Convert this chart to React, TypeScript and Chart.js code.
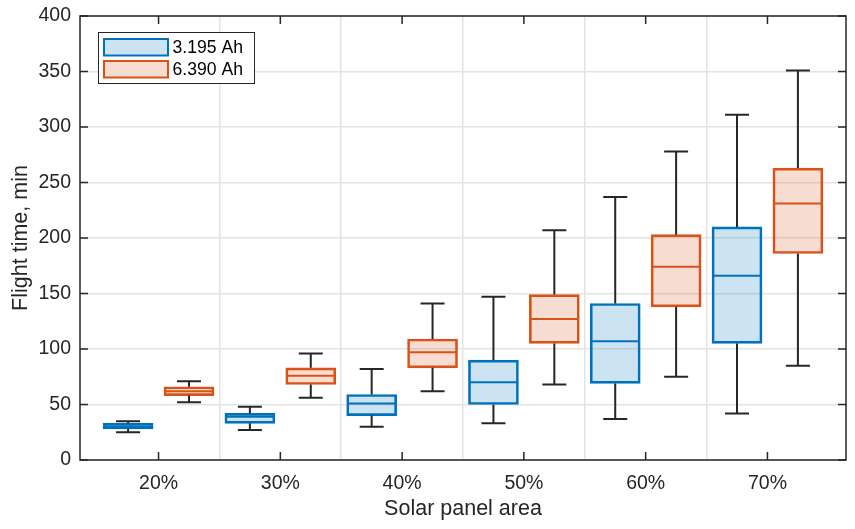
// App.tsx
import React, { useEffect, useRef } from "react";
import { Chart, registerables } from "chart.js";

Chart.register(...registerables);

const categories = ["20%", "30%", "40%", "50%", "60%", "70%"];

// 3.195 Ah battery
const smallLow = [25, 27, 30, 33, 37, 42];
const smallQ1 = [28, 33, 40, 50, 69, 105];
const smallMedian = [30, 39, 51, 70, 107, 166];
const smallQ3 = [33, 42, 59, 90, 141, 210];
const smallHigh = [35, 48, 82, 147, 237, 311];

// 6.390 Ah battery
const largeLow = [52, 56, 62, 68, 75, 85];
const largeQ1 = [58, 68, 83, 105, 138, 186];
const largeMedian = [62, 76, 97, 127, 174, 231];
const largeQ3 = [66, 83, 109, 149, 203, 263];
const largeHigh = [71, 96, 141, 207, 278, 351];

const yTicks = [0, 50, 100, 150, 200, 250, 300, 350, 400];

const FONT = "'Liberation Sans', Arial, Helvetica, sans-serif";
const AXIS_COLOR = "#262626";

const series = [
  {
    label: "3.195 Ah",
    color: "#0072BD",
    fill: "rgba(0, 114, 189, 0.2)",
    shift: -0.25,
    low: smallLow,
    q1: smallQ1,
    median: smallMedian,
    q3: smallQ3,
    high: smallHigh,
  },
  {
    label: "6.390 Ah",
    color: "#D95319",
    fill: "rgba(217, 83, 25, 0.2)",
    shift: 0.25,
    low: largeLow,
    q1: largeQ1,
    median: largeMedian,
    q3: largeQ3,
    high: largeHigh,
  },
];

// whiskers, medians, inward ticks, axes box and the legend
const boxExtras = {
  id: "boxExtras",
  afterDatasetsDraw(chart: any) {
    const ctx = chart.ctx;
    const y = chart.scales.y;
    ctx.save();
    series.forEach((s, di) => {
      const meta = chart.getDatasetMeta(di);
      meta.data.forEach((bar: any, i: number) => {
        const cx = bar.x;
        const half = bar.width / 2;
        const capHalf = 12;
        ctx.strokeStyle = AXIS_COLOR;
        ctx.lineWidth = 2;
        ctx.beginPath();
        ctx.moveTo(cx, y.getPixelForValue(s.q3[i]));
        ctx.lineTo(cx, y.getPixelForValue(s.high[i]));
        ctx.moveTo(cx - capHalf, y.getPixelForValue(s.high[i]));
        ctx.lineTo(cx + capHalf, y.getPixelForValue(s.high[i]));
        ctx.moveTo(cx, y.getPixelForValue(s.q1[i]));
        ctx.lineTo(cx, y.getPixelForValue(s.low[i]));
        ctx.moveTo(cx - capHalf, y.getPixelForValue(s.low[i]));
        ctx.lineTo(cx + capHalf, y.getPixelForValue(s.low[i]));
        ctx.stroke();

        ctx.strokeStyle = s.color;
        ctx.lineWidth = 2;
        ctx.beginPath();
        ctx.moveTo(cx - half + 1, y.getPixelForValue(s.median[i]));
        ctx.lineTo(cx + half - 1, y.getPixelForValue(s.median[i]));
        ctx.stroke();
      });
    });
    ctx.restore();
  },
  afterDraw(chart: any) {
    const ctx = chart.ctx;
    const { left, right, top, bottom } = chart.chartArea;
    const x = chart.scales.x;
    const y = chart.scales.y;
    const tick = 8;
    ctx.save();
    ctx.strokeStyle = AXIS_COLOR;
    ctx.lineWidth = 1.5;
    ctx.beginPath();
    yTicks.forEach((v) => {
      const py = y.getPixelForValue(v);
      ctx.moveTo(left, py);
      ctx.lineTo(left + tick, py);
      ctx.moveTo(right, py);
      ctx.lineTo(right - tick, py);
    });
    categories.forEach((_, i) => {
      const px = x.getPixelForValue(i);
      ctx.moveTo(px, bottom);
      ctx.lineTo(px, bottom - tick);
      ctx.moveTo(px, top);
      ctx.lineTo(px, top + tick);
    });
    ctx.stroke();
    ctx.strokeRect(left, top, right - left, bottom - top);

    // legend
    const lx = left + 18.5;
    const ly = top + 16.5;
    ctx.fillStyle = "#ffffff";
    ctx.fillRect(lx, ly, 156, 51);
    ctx.lineWidth = 1;
    ctx.strokeStyle = AXIS_COLOR;
    ctx.strokeRect(lx, ly, 156, 51);
    ctx.font = `17.6px ${FONT}`;
    ctx.textBaseline = "middle";
    ctx.textAlign = "left";
    series.forEach((s, i) => {
      const py = ly + 6.5 + i * 22;
      ctx.fillStyle = "#ffffff";
      ctx.fillRect(lx + 5.5, py, 64, 16.5);
      ctx.fillStyle = s.fill;
      ctx.fillRect(lx + 5.5, py, 64, 16.5);
      ctx.strokeStyle = s.color;
      ctx.lineWidth = 2;
      ctx.strokeRect(lx + 5.5, py, 64, 16.5);
      ctx.fillStyle = "#000000";
      ctx.fillText(s.label, lx + 74, py + 9);
    });
    ctx.restore();
  },
};

const App: React.FC = () => {
  const chartRef = useRef<HTMLCanvasElement>(null);

  useEffect(() => {
    document.body.style.margin = "0";
    if (!chartRef.current) return;
    const ctx = chartRef.current.getContext("2d");
    if (!ctx) return;

    const myChart = new Chart(ctx, {
      type: "bar",
      data: {
        datasets: series.map((s) => ({
          label: s.label,
          data: categories.map((_, i) => ({ x: i + s.shift, y: [s.q1[i], s.q3[i]] })),
          backgroundColor: s.fill,
          borderColor: s.color,
          borderWidth: 2,
          borderSkipped: false,
          barThickness: 50,
          grouped: false,
        })),
      } as any,
      plugins: [boxExtras],
      options: {
        animation: false,
        responsive: true,
        maintainAspectRatio: false,
        layout: { padding: { top: 16, right: 9, left: 0, bottom: 0 } },
        plugins: {
          legend: { display: false },
          tooltip: { enabled: false },
        },
        scales: {
          x: {
            type: "linear",
            position: "bottom",
            weight: 1,
            min: -0.645,
            max: 5.645,
            offset: false,
            grid: { display: false, offset: false },
            border: { display: false },
            afterBuildTicks: (scale: any) => {
              scale.ticks = categories.map((_, i) => ({ value: i }));
            },
            afterFit: (scale: any) => {
              scale.height = 69;
              scale.paddingLeft = 0;
              scale.paddingRight = 0;
            },
            ticks: {
              autoSkip: false,
              maxRotation: 0,
              padding: 4,
              color: AXIS_COLOR,
              font: { family: FONT, size: 19.5 },
              callback: (v: any) => categories[Math.round(Number(v))] ?? "",
            },
            title: {
              display: true,
              text: "Solar panel area",
              color: AXIS_COLOR,
              font: { family: FONT, size: 21.5 },
              padding: { top: 0, bottom: 7 },
            },
          },
          xGrid: {
            type: "linear",
            axis: "x",
            position: "top",
            min: -0.645,
            max: 5.645,
            offset: false,
            grid: { color: "#e3e3e3", lineWidth: 1.5, drawTicks: false, offset: false },
            border: { display: false },
            ticks: { display: false },
            afterBuildTicks: (scale: any) => {
              scale.ticks = categories.slice(1).map((_, i) => ({ value: i + 0.5 }));
            },
            afterFit: (scale: any) => {
              scale.height = 0;
              scale.paddingLeft = 0;
              scale.paddingRight = 0;
            },
          },
          y: {
            type: "linear",
            min: 0,
            max: 400,
            grid: { color: "#e3e3e3", lineWidth: 1.5, drawTicks: false },
            border: { display: false },
            afterBuildTicks: (scale: any) => {
              scale.ticks = yTicks.map((v) => ({ value: v }));
            },
            afterFit: (scale: any) => {
              scale.width = 80;
              scale.paddingTop = 0;
              scale.paddingBottom = 0;
            },
            ticks: {
              padding: 9,
              color: AXIS_COLOR,
              font: { family: FONT, size: 19.5 },
            },
            title: {
              display: true,
              text: "Flight time, min",
              color: AXIS_COLOR,
              font: { family: FONT, size: 21.5 },
              padding: { top: 8, bottom: 0 },
            },
          },
        },
      } as any,
    });

    return () => {
      myChart.destroy();
    };
  }, []);

  return (
    <div style={{ position: "relative", width: 855, height: 529 }}>
      <canvas ref={chartRef} />
    </div>
  );
};

export default App;
